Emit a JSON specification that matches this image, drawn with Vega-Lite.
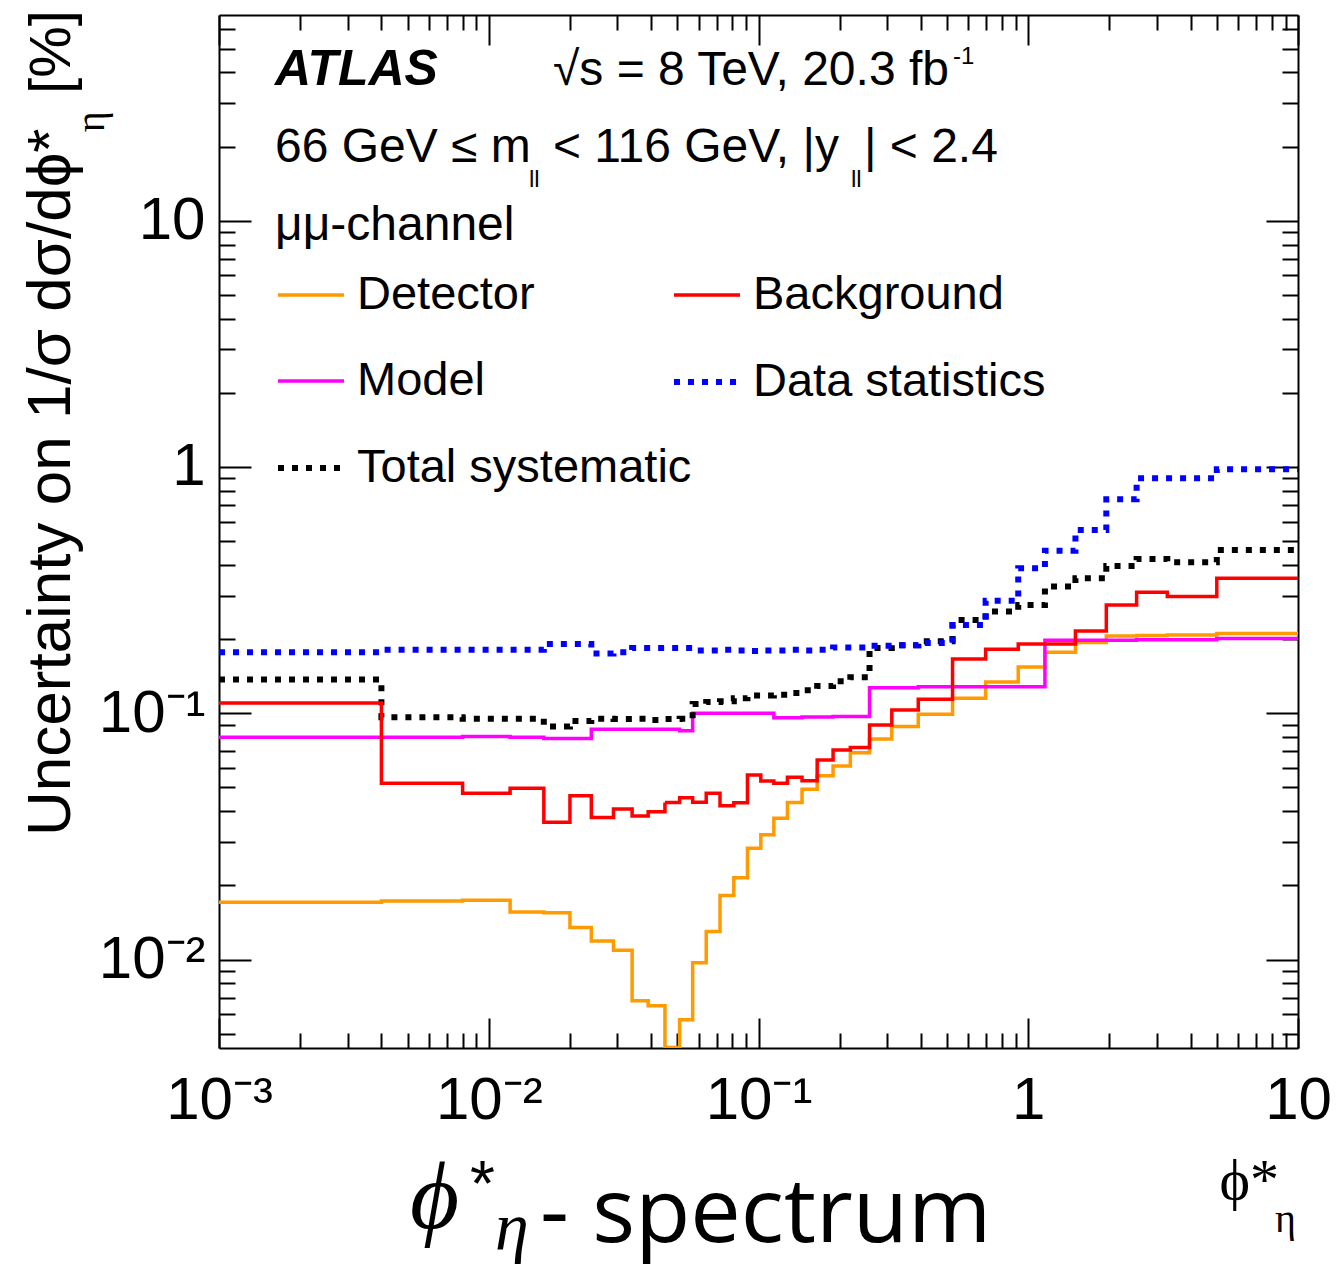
{
  "$schema": "https://vega.github.io/schema/vega-lite/v6.json",
  "width": 1079,
  "height": 1033,
  "autosize": {"type": "none"},
  "padding": {"left": 219, "top": 15, "right": 40, "bottom": 220},
  "background": "white",
  "config": {
    "view": {"stroke": null},
    "font": "Liberation Sans",
    "axis": {"grid": false, "tickColor": "#000", "domainColor": "#000", "tickWidth": 2, "domainWidth": 2, "labelColor": "#000", "titleColor": "#000"},
    "legend": {"symbolType": "stroke", "symbolSize": 4356, "labelFontSize": 47, "labelFont": "Liberation Sans", "labelColor": "#000", "labelLimit": 900, "labelOffset": 10, "rowPadding": 28, "padding": 0, "labelBaseline": "middle"}
  },
  "datasets": {
    "bins": [
      {"edge": 0.001, "Detector": 0.0171, "Background": 0.110, "Model": 0.0799, "Data statistics": 0.177, "Total systematic": 0.137},
      {"edge": 0.004, "Detector": 0.0173, "Background": 0.052, "Model": 0.0799, "Data statistics": 0.181, "Total systematic": 0.0964},
      {"edge": 0.008, "Detector": 0.0174, "Background": 0.0473, "Model": 0.0805, "Data statistics": 0.181, "Total systematic": 0.095},
      {"edge": 0.012, "Detector": 0.0156, "Background": 0.0496, "Model": 0.080, "Data statistics": 0.181, "Total systematic": 0.095},
      {"edge": 0.016, "Detector": 0.0155, "Background": 0.0361, "Model": 0.079, "Data statistics": 0.191, "Total systematic": 0.0883},
      {"edge": 0.020, "Detector": 0.0135, "Background": 0.0463, "Model": 0.079, "Data statistics": 0.191, "Total systematic": 0.093},
      {"edge": 0.024, "Detector": 0.0119, "Background": 0.0377, "Model": 0.0861, "Data statistics": 0.175, "Total systematic": 0.095},
      {"edge": 0.029, "Detector": 0.0109, "Background": 0.0409, "Model": 0.0861, "Data statistics": 0.177, "Total systematic": 0.0947},
      {"edge": 0.034, "Detector": 0.0068, "Background": 0.0383, "Model": 0.0861, "Data statistics": 0.184, "Total systematic": 0.095},
      {"edge": 0.039, "Detector": 0.0065, "Background": 0.0398, "Model": 0.0861, "Data statistics": 0.184, "Total systematic": 0.094},
      {"edge": 0.045, "Detector": 0.0044, "Background": 0.0434, "Model": 0.0861, "Data statistics": 0.184, "Total systematic": 0.0947},
      {"edge": 0.051, "Detector": 0.0057, "Background": 0.0454, "Model": 0.085, "Data statistics": 0.184, "Total systematic": 0.095},
      {"edge": 0.057, "Detector": 0.0097, "Background": 0.0435, "Model": 0.100, "Data statistics": 0.180, "Total systematic": 0.109},
      {"edge": 0.064, "Detector": 0.0130, "Background": 0.0473, "Model": 0.100, "Data statistics": 0.180, "Total systematic": 0.111},
      {"edge": 0.072, "Detector": 0.0182, "Background": 0.0421, "Model": 0.100, "Data statistics": 0.181, "Total systematic": 0.112},
      {"edge": 0.081, "Detector": 0.0215, "Background": 0.0433, "Model": 0.100, "Data statistics": 0.180, "Total systematic": 0.115},
      {"edge": 0.091, "Detector": 0.0283, "Background": 0.0562, "Model": 0.100, "Data statistics": 0.179, "Total systematic": 0.118},
      {"edge": 0.102, "Detector": 0.0321, "Background": 0.0531, "Model": 0.100, "Data statistics": 0.180, "Total systematic": 0.118},
      {"edge": 0.114, "Detector": 0.0375, "Background": 0.0520, "Model": 0.096, "Data statistics": 0.180, "Total systematic": 0.119},
      {"edge": 0.128, "Detector": 0.0434, "Background": 0.0550, "Model": 0.096, "Data statistics": 0.181, "Total systematic": 0.121},
      {"edge": 0.145, "Detector": 0.0491, "Background": 0.0532, "Model": 0.0965, "Data statistics": 0.180, "Total systematic": 0.124},
      {"edge": 0.165, "Detector": 0.0558, "Background": 0.0646, "Model": 0.0965, "Data statistics": 0.181, "Total systematic": 0.129},
      {"edge": 0.189, "Detector": 0.0611, "Background": 0.0710, "Model": 0.097, "Data statistics": 0.185, "Total systematic": 0.135},
      {"edge": 0.219, "Detector": 0.0692, "Background": 0.0727, "Model": 0.097, "Data statistics": 0.185, "Total systematic": 0.140},
      {"edge": 0.258, "Detector": 0.0787, "Background": 0.0896, "Model": 0.127, "Data statistics": 0.188, "Total systematic": 0.184},
      {"edge": 0.312, "Detector": 0.0883, "Background": 0.103, "Model": 0.127, "Data statistics": 0.189, "Total systematic": 0.189},
      {"edge": 0.391, "Detector": 0.0991, "Background": 0.114, "Model": 0.128, "Data statistics": 0.193, "Total systematic": 0.196},
      {"edge": 0.524, "Detector": 0.115, "Background": 0.166, "Model": 0.128, "Data statistics": 0.228, "Total systematic": 0.239},
      {"edge": 0.695, "Detector": 0.134, "Background": 0.182, "Model": 0.128, "Data statistics": 0.286, "Total systematic": 0.259},
      {"edge": 0.918, "Detector": 0.154, "Background": 0.191, "Model": 0.128, "Data statistics": 0.388, "Total systematic": 0.275},
      {"edge": 1.153, "Detector": 0.177, "Background": 0.191, "Model": 0.198, "Data statistics": 0.457, "Total systematic": 0.327},
      {"edge": 1.496, "Detector": 0.194, "Background": 0.216, "Model": 0.198, "Data statistics": 0.555, "Total systematic": 0.353},
      {"edge": 1.947, "Detector": 0.206, "Background": 0.275, "Model": 0.198, "Data statistics": 0.739, "Total systematic": 0.396},
      {"edge": 2.522, "Detector": 0.207, "Background": 0.310, "Model": 0.199, "Data statistics": 0.900, "Total systematic": 0.423},
      {"edge": 3.277, "Detector": 0.208, "Background": 0.298, "Model": 0.199, "Data statistics": 0.900, "Total systematic": 0.410},
      {"edge": 5.0, "Detector": 0.211, "Background": 0.353, "Model": 0.201, "Data statistics": 0.979, "Total systematic": 0.460},
      {"edge": 10.0, "Detector": 0.211, "Background": 0.353, "Model": 0.201, "Data statistics": 0.979, "Total systematic": 0.460}
    ],
    "notes": [
      {"role": "atlas", "t": "ATLAS", "x": 0.001613, "y": 35.56},
      {"role": "main", "t": "√s = 8 TeV, 20.3 fb", "x": 0.0173, "y": 35.56},
      {"role": "sup", "t": "-1", "x": 0.5262, "y": 43.27},
      {"role": "main", "t": "66 GeV ≤ m", "x": 0.001613, "y": 17.31},
      {"role": "sub", "t": "ll", "x": 0.0141, "y": 13.70},
      {"role": "main", "t": "< 116 GeV, |y", "x": 0.0173, "y": 17.31},
      {"role": "sub", "t": "ll", "x": 0.2203, "y": 13.70},
      {"role": "main", "t": "| < 2.4", "x": 0.2461, "y": 17.31},
      {"role": "main", "t": "μμ-channel", "x": 0.001613, "y": 8.35},
      {"role": "yeta", "t": "η", "x": 0.0003748, "y": 25.2},
      {"role": "ypct", "t": "[%]", "x": 0.00028, "y": 48.4},
      {"role": "xeta", "t": "η", "x": 8.22, "y": 0.000783},
      {"role": "bigphi", "t": "ϕ", "x": 0.005106, "y": 0.000813},
      {"role": "bigstar", "t": "*", "x": 0.00852, "y": 0.001609},
      {"role": "bigeta", "t": "η", "x": 0.010548, "y": 0.000662},
      {"role": "spectrum", "t": "- spectrum", "x": 0.01549, "y": 0.000714}
    ]
  },
  "resolve": {
    "scale": {"color": "independent", "strokeDash": "independent", "strokeWidth": "independent"},
    "axis": {"x": "independent", "y": "independent"},
    "legend": {"color": "independent", "strokeDash": "independent", "strokeWidth": "independent"}
  },
  "layer": [
    {
      "data": {"name": "bins"},
      "transform": [
        {"fold": ["Detector", "Background", "Model", "Data statistics", "Total systematic"], "as": ["series", "value"]},
        {"filter": {"field": "series", "oneOf": ["Detector", "Model", "Total systematic"]}}
      ],
      "mark": {"type": "line", "interpolate": "step-after", "clip": true, "strokeCap": "butt"},
      "encoding": {
        "x": {"field": "edge", "type": "quantitative", "scale": {"type": "log", "domain": [0.001, 10], "nice": false},
          "axis": {"orient": "bottom", "values": [0.001, 0.01, 0.1, 1, 10], "tickSize": -30,
            "labelExpr": "round(log(datum.value)/LN10) == 0 ? '1' : round(log(datum.value)/LN10) == 1 ? '10' : round(log(datum.value)/LN10) == -1 ? '10⁻¹' : round(log(datum.value)/LN10) == -2 ? '10⁻²' : '10⁻³'",
            "labelFontSize": 60, "labelFont": "Liberation Sans", "labelPadding": 53, "labelFlush": false, "labelOverlap": false, "labelAlign": "center", "labelBaseline": "top",
            "title": "ϕ*", "titleFont": "Liberation Serif, DejaVu Serif", "titleFontSize": 58, "titleFontWeight": "normal", "titleAlign": "left", "titleBaseline": "alphabetic", "titleX": 1000, "titleY": 150}},
        "y": {"field": "value", "type": "quantitative", "scale": {"type": "log", "domain": [0.004375, 68.4], "nice": false},
          "axis": {"orient": "left", "values": [0.01, 0.1, 1, 10], "tickSize": -32,
            "labelExpr": "round(log(datum.value)/LN10) == 0 ? '1' : round(log(datum.value)/LN10) == 1 ? '10' : round(log(datum.value)/LN10) == -1 ? '10⁻¹' : '10⁻²'",
            "labelFontSize": 60, "labelFont": "Liberation Sans", "labelPadding": 46, "labelAlign": "right", "labelBaseline": "middle", "labelFlush": false, "labelOverlap": false,
            "title": "Uncertainty on 1/σ dσ/dϕ*", "titleFont": "Liberation Sans", "titleFontSize": 62, "titleFontWeight": "normal", "titleAngle": 270, "titleAlign": "right", "titleBaseline": "alphabetic", "titleX": -150, "titleY": 113}},
        "color": {"field": "series", "type": "nominal", "scale": {"domain": ["Detector", "Model", "Total systematic"], "range": ["#ff9a00", "#ff00ff", "#000000"]},
          "legend": {"orient": "none", "legendX": 56, "legendY": 245, "title": null}},
        "strokeDash": {"field": "series", "type": "nominal", "scale": {"domain": ["Detector", "Model", "Total systematic"], "range": [[1, 0], [1, 0], [6, 8]]},
          "legend": {"orient": "none", "legendX": 56, "legendY": 245, "title": null}},
        "strokeWidth": {"field": "series", "type": "nominal", "scale": {"type": "ordinal", "domain": ["Detector", "Model", "Total systematic"], "range": [3.5, 3.5, 6]},
          "legend": {"orient": "none", "legendX": 56, "legendY": 245, "title": null}}
      }
    },
    {
      "data": {"name": "bins"},
      "transform": [
        {"fold": ["Detector", "Background", "Model", "Data statistics", "Total systematic"], "as": ["series", "value"]},
        {"filter": {"field": "series", "oneOf": ["Background", "Data statistics"]}}
      ],
      "mark": {"type": "line", "interpolate": "step-after", "clip": true, "strokeCap": "butt"},
      "encoding": {
        "x": {"field": "edge", "type": "quantitative", "scale": {"type": "log", "domain": [0.001, 10], "nice": false},
          "axis": {"orient": "top", "values": [0.001, 0.01, 0.1, 1, 10], "tickSize": -30, "labels": false, "title": null}},
        "y": {"field": "value", "type": "quantitative", "scale": {"type": "log", "domain": [0.004375, 68.4], "nice": false},
          "axis": {"orient": "right", "values": [0.01, 0.1, 1, 10], "tickSize": -32, "labels": false, "title": null}},
        "color": {"field": "series", "type": "nominal", "scale": {"domain": ["Background", "Data statistics"], "range": ["#ff0000", "#0000ff"]},
          "legend": {"orient": "none", "legendX": 452, "legendY": 245, "title": null}},
        "strokeDash": {"field": "series", "type": "nominal", "scale": {"domain": ["Background", "Data statistics"], "range": [[1, 0], [6, 8]]},
          "legend": {"orient": "none", "legendX": 452, "legendY": 245, "title": null}},
        "strokeWidth": {"field": "series", "type": "nominal", "scale": {"type": "ordinal", "domain": ["Background", "Data statistics"], "range": [3.5, 6]},
          "legend": {"orient": "none", "legendX": 452, "legendY": 245, "title": null}}
      }
    },
    {
      "data": {"name": "notes"},
      "transform": [{"filter": "datum.role == 'main'"}],
      "mark": {"type": "text", "align": "left", "baseline": "alphabetic", "fontSize": 48, "font": "Liberation Sans", "color": "#000"},
      "encoding": {
        "x": {"field": "x", "type": "quantitative", "scale": {"type": "log", "domain": [0.001, 10], "nice": false},
          "axis": {"orient": "bottom", "values": [0.002, 0.003, 0.004, 0.005, 0.006, 0.007, 0.008, 0.009, 0.02, 0.03, 0.04, 0.05, 0.06, 0.07, 0.08, 0.09, 0.2, 0.3, 0.4, 0.5, 0.6, 0.7, 0.8, 0.9, 2, 3, 4, 5, 6, 7, 8, 9], "tickSize": -15, "labels": false, "domain": false, "title": null}},
        "y": {"field": "y", "type": "quantitative", "scale": {"type": "log", "domain": [0.004375, 68.4], "nice": false},
          "axis": {"orient": "left", "values": [0.005, 0.006, 0.007, 0.008, 0.009, 0.02, 0.03, 0.04, 0.05, 0.06, 0.07, 0.08, 0.09, 0.2, 0.3, 0.4, 0.5, 0.6, 0.7, 0.8, 0.9, 2, 3, 4, 5, 6, 7, 8, 9, 20, 30, 40, 50, 60], "tickSize": -16, "labels": false, "domain": false, "title": null}},
        "text": {"field": "t"}
      }
    },
    {
      "data": {"name": "notes"},
      "transform": [{"filter": "datum.role == 'atlas'"}],
      "mark": {"type": "text", "align": "left", "baseline": "alphabetic", "fontSize": 50, "font": "Liberation Sans", "fontWeight": "bold", "fontStyle": "italic", "color": "#000"},
      "encoding": {
        "x": {"field": "x", "type": "quantitative", "scale": {"type": "log", "domain": [0.001, 10], "nice": false},
          "axis": {"orient": "top", "values": [0.002, 0.003, 0.004, 0.005, 0.006, 0.007, 0.008, 0.009, 0.02, 0.03, 0.04, 0.05, 0.06, 0.07, 0.08, 0.09, 0.2, 0.3, 0.4, 0.5, 0.6, 0.7, 0.8, 0.9, 2, 3, 4, 5, 6, 7, 8, 9], "tickSize": -15, "labels": false, "domain": false, "title": null}},
        "y": {"field": "y", "type": "quantitative", "scale": {"type": "log", "domain": [0.004375, 68.4], "nice": false},
          "axis": {"orient": "right", "values": [0.005, 0.006, 0.007, 0.008, 0.009, 0.02, 0.03, 0.04, 0.05, 0.06, 0.07, 0.08, 0.09, 0.2, 0.3, 0.4, 0.5, 0.6, 0.7, 0.8, 0.9, 2, 3, 4, 5, 6, 7, 8, 9, 20, 30, 40, 50, 60], "tickSize": -16, "labels": false, "domain": false, "title": null}},
        "text": {"field": "t"}
      }
    },
    {
      "data": {"name": "notes"},
      "transform": [{"filter": "datum.role == 'sub'"}],
      "mark": {"type": "text", "align": "left", "baseline": "alphabetic", "fontSize": 24, "font": "Liberation Sans", "color": "#000"},
      "encoding": {
        "x": {"field": "x", "type": "quantitative", "scale": {"type": "log", "domain": [0.001, 10], "nice": false}, "axis": null},
        "y": {"field": "y", "type": "quantitative", "scale": {"type": "log", "domain": [0.004375, 68.4], "nice": false}, "axis": null},
        "text": {"field": "t"}
      }
    },
    {
      "data": {"name": "notes"},
      "transform": [{"filter": "datum.role == 'sup'"}],
      "mark": {"type": "text", "align": "left", "baseline": "alphabetic", "fontSize": 24, "font": "Liberation Sans", "color": "#000"},
      "encoding": {
        "x": {"field": "x", "type": "quantitative", "scale": {"type": "log", "domain": [0.001, 10], "nice": false}, "axis": null},
        "y": {"field": "y", "type": "quantitative", "scale": {"type": "log", "domain": [0.004375, 68.4], "nice": false}, "axis": null},
        "text": {"field": "t"}
      }
    },
    {
      "data": {"name": "notes"},
      "transform": [{"filter": "datum.role == 'yeta'"}],
      "mark": {"type": "text", "align": "center", "baseline": "alphabetic", "angle": 270, "fontSize": 40, "font": "Liberation Serif, DejaVu Serif", "color": "#000"},
      "encoding": {
        "x": {"field": "x", "type": "quantitative", "scale": {"type": "log", "domain": [0.001, 10], "nice": false}, "axis": null},
        "y": {"field": "y", "type": "quantitative", "scale": {"type": "log", "domain": [0.004375, 68.4], "nice": false}, "axis": null},
        "text": {"field": "t"}
      }
    },
    {
      "data": {"name": "notes"},
      "transform": [{"filter": "datum.role == 'ypct'"}],
      "mark": {"type": "text", "align": "center", "baseline": "alphabetic", "angle": 270, "fontSize": 58, "font": "Liberation Sans", "color": "#000"},
      "encoding": {
        "x": {"field": "x", "type": "quantitative", "scale": {"type": "log", "domain": [0.001, 10], "nice": false}, "axis": null},
        "y": {"field": "y", "type": "quantitative", "scale": {"type": "log", "domain": [0.004375, 68.4], "nice": false}, "axis": null},
        "text": {"field": "t"}
      }
    },
    {
      "data": {"name": "notes"},
      "transform": [{"filter": "datum.role == 'xeta'"}],
      "mark": {"type": "text", "align": "left", "baseline": "alphabetic", "fontSize": 40, "font": "Liberation Serif, DejaVu Serif", "color": "#000"},
      "encoding": {
        "x": {"field": "x", "type": "quantitative", "scale": {"type": "log", "domain": [0.001, 10], "nice": false}, "axis": null},
        "y": {"field": "y", "type": "quantitative", "scale": {"type": "log", "domain": [0.004375, 68.4], "nice": false}, "axis": null},
        "text": {"field": "t"}
      }
    },
    {
      "data": {"name": "notes"},
      "transform": [{"filter": "datum.role == 'bigphi'"}],
      "mark": {"type": "text", "align": "left", "baseline": "alphabetic", "fontSize": 95, "fontStyle": "italic", "font": "Liberation Serif, DejaVu Serif", "color": "#000"},
      "encoding": {
        "x": {"field": "x", "type": "quantitative", "scale": {"type": "log", "domain": [0.001, 10], "nice": false}, "axis": null},
        "y": {"field": "y", "type": "quantitative", "scale": {"type": "log", "domain": [0.004375, 68.4], "nice": false}, "axis": null},
        "text": {"field": "t"}
      }
    },
    {
      "data": {"name": "notes"},
      "transform": [{"filter": "datum.role == 'bigstar'"}],
      "mark": {"type": "text", "align": "left", "baseline": "top", "fontSize": 64, "font": "Liberation Sans", "color": "#000"},
      "encoding": {
        "x": {"field": "x", "type": "quantitative", "scale": {"type": "log", "domain": [0.001, 10], "nice": false}, "axis": null},
        "y": {"field": "y", "type": "quantitative", "scale": {"type": "log", "domain": [0.004375, 68.4], "nice": false}, "axis": null},
        "text": {"field": "t"}
      }
    },
    {
      "data": {"name": "notes"},
      "transform": [{"filter": "datum.role == 'bigeta'"}],
      "mark": {"type": "text", "align": "left", "baseline": "alphabetic", "fontSize": 68, "fontStyle": "italic", "font": "Liberation Serif, DejaVu Serif", "color": "#000"},
      "encoding": {
        "x": {"field": "x", "type": "quantitative", "scale": {"type": "log", "domain": [0.001, 10], "nice": false}, "axis": null},
        "y": {"field": "y", "type": "quantitative", "scale": {"type": "log", "domain": [0.004375, 68.4], "nice": false}, "axis": null},
        "text": {"field": "t"}
      }
    },
    {
      "data": {"name": "notes"},
      "transform": [{"filter": "datum.role == 'spectrum'"}],
      "mark": {"type": "text", "align": "left", "baseline": "alphabetic", "fontSize": 90, "font": "Open Sans", "color": "#000"},
      "encoding": {
        "x": {"field": "x", "type": "quantitative", "scale": {"type": "log", "domain": [0.001, 10], "nice": false}, "axis": null},
        "y": {"field": "y", "type": "quantitative", "scale": {"type": "log", "domain": [0.004375, 68.4], "nice": false}, "axis": null},
        "text": {"field": "t"}
      }
    }
  ]
}
